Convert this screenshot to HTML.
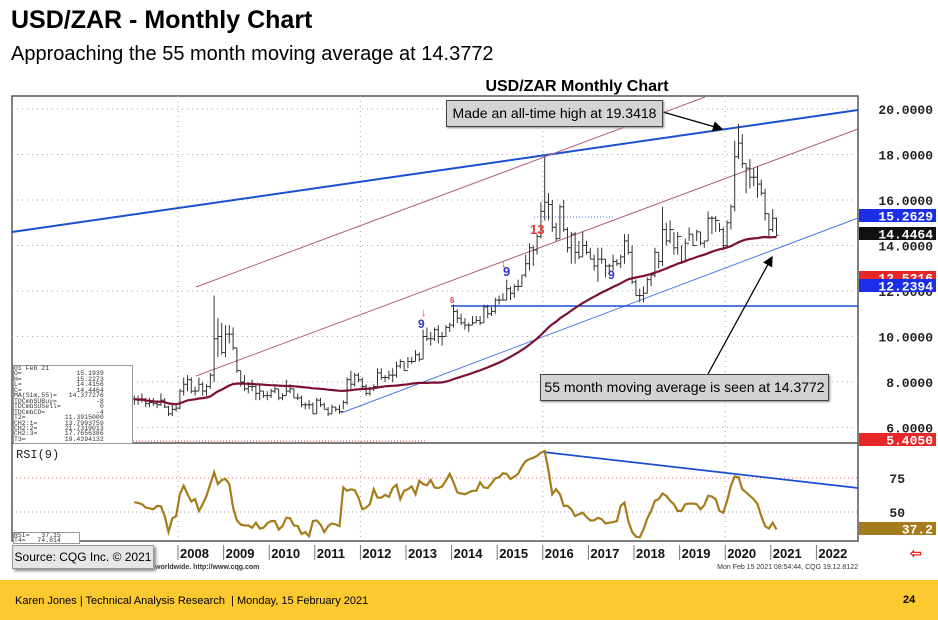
<!DOCTYPE html>
<html><head><meta charset="utf-8"><style>
body{margin:0;width:938px;height:620px;overflow:hidden;background:#fff;font-family:"Liberation Sans",sans-serif;position:relative}
.abs{position:absolute}
</style></head><body>
<div class="abs" style="left:11px;top:6px;font-size:25px;font-weight:bold;color:#000">USD/ZAR - Monthly Chart</div>
<div class="abs" style="left:11px;top:43px;font-size:20px;color:#000">Approaching the 55 month moving average at 14.3772</div>
<svg id="c" class="abs" style="left:0;top:0" width="938" height="620"></svg>
<div class="abs" style="left:0;top:580px;width:938px;height:40px;background:#fcc92f"></div>
<div class="abs" style="left:15px;top:595px;font-size:11px;color:#000">Karen Jones | Technical Analysis Research &nbsp;| Monday, 15 February 2021</div>
<div class="abs" style="left:903px;top:594px;font-size:11px;font-weight:bold">24</div>
<script>
const years=[2007,2008,2009,2010,2011,2012,2013,2014,2015,2016,2017,2018,2019,2020,2021];
const closes=[7.25,7.2,7.25,7.05,7.1,7.05,7.0,7.2,6.9,6.6,6.8,6.85,
7.6,7.9,8.1,7.6,7.6,7.9,7.6,7.8,8.3,9.9,10.0,9.3,
10.1,10.1,9.5,8.5,8.0,7.7,7.8,7.8,7.5,7.6,7.4,7.4,
7.6,7.7,7.3,7.4,7.6,7.7,7.3,7.3,7.0,7.0,7.0,6.6,
7.2,7.0,6.8,6.6,6.9,6.8,6.7,7.1,8.1,7.9,8.3,8.1,
7.8,7.5,7.7,7.8,8.4,8.2,8.2,8.3,8.3,8.7,8.9,8.5,
8.9,8.9,9.2,9.0,10.0,9.9,9.9,10.3,10.0,10.0,10.4,10.5,
11.1,10.8,10.6,10.5,10.5,10.6,10.7,10.6,11.3,11.0,11.1,11.6,
11.6,11.6,12.1,11.9,12.2,12.2,12.7,13.2,13.9,13.8,14.4,15.5,
15.9,15.8,14.8,14.3,15.7,14.7,13.9,14.5,13.7,13.5,14.0,13.7,
13.4,13.1,13.4,13.4,13.1,13.1,13.3,13.2,13.5,14.2,13.7,12.4,
11.8,11.8,11.9,12.5,12.7,13.7,13.3,14.7,14.2,14.7,13.9,14.4,
13.3,14.1,14.5,14.0,14.6,14.1,14.2,15.2,15.2,15.1,14.7,14.0,
15.0,15.7,17.9,18.5,17.6,17.4,17.0,17.0,16.7,16.3,15.4,14.7,
15.2,14.45];
const highs=[7.4,7.4,7.5,7.3,7.3,7.3,7.2,7.5,7.3,6.95,7.0,7.0,
7.7,8.2,8.3,8.2,7.8,8.2,8.0,7.9,8.4,11.8,10.8,10.6,
10.5,10.5,10.4,9.5,8.5,8.3,8.0,8.1,7.9,7.9,7.6,7.6,
7.7,7.9,7.7,7.5,8.1,7.9,7.7,7.5,7.4,7.1,7.2,7.1,
7.3,7.3,7.1,6.9,7.0,6.9,7.0,7.2,8.2,8.5,8.4,8.4,
8.2,7.9,7.8,7.9,8.6,8.6,8.3,8.5,8.6,8.9,9.0,8.9,
9.1,9.1,9.4,9.3,10.3,10.4,10.2,10.4,10.5,10.2,10.5,10.6,
11.4,11.2,11.0,10.8,10.6,10.9,10.9,10.9,11.4,11.4,11.3,11.7,
11.8,11.9,12.5,12.2,12.3,12.5,12.7,13.6,14.1,14.0,14.5,15.9,
17.9,16.3,16.0,15.0,15.8,16.0,14.8,14.6,14.6,14.2,14.6,14.2,
13.9,13.6,13.9,13.9,13.4,13.2,13.6,13.4,13.6,14.5,14.5,14.0,
12.5,12.1,12.2,12.6,12.8,13.9,13.7,15.7,15.0,15.1,14.6,14.6,
14.0,14.3,14.8,14.5,14.7,14.6,14.2,15.5,15.3,15.3,15.0,14.8,
15.1,15.8,18.6,19.34,18.9,17.6,17.8,17.4,17.5,16.9,16.5,15.4,
15.6,15.23];
const lows=[7.0,7.0,7.1,6.9,6.9,6.95,6.85,6.95,6.85,6.5,6.5,6.7,
6.8,7.4,7.6,7.5,7.4,7.6,7.4,7.4,7.7,8.0,9.1,9.2,
9.1,9.7,9.4,8.4,7.8,7.6,7.5,7.6,7.2,7.2,7.3,7.2,
7.3,7.5,7.2,7.2,7.4,7.5,7.3,7.2,6.9,6.8,6.8,6.6,
6.6,6.9,6.8,6.5,6.6,6.7,6.6,6.8,7.0,7.7,7.8,8.0,
7.7,7.4,7.4,7.6,7.7,8.1,8.0,8.1,8.0,8.2,8.6,8.5,
8.6,8.8,8.9,8.9,9.0,9.8,9.6,9.8,9.7,9.6,10.0,10.2,
10.4,10.6,10.5,10.3,10.2,10.5,10.6,10.5,10.6,10.8,10.9,11.0,
11.4,11.6,11.6,11.6,11.7,12.0,12.2,12.6,12.9,13.1,13.6,14.3,
15.1,15.1,14.6,14.2,14.3,14.6,13.7,13.2,13.2,13.4,13.5,13.6,
13.4,12.9,12.4,13.2,12.6,12.8,12.9,13.1,13.0,13.2,13.6,12.3,
11.8,11.5,11.5,11.9,12.2,12.6,13.0,13.1,14.0,14.1,13.6,13.6,
13.2,13.3,14.2,14.0,14.2,14.0,13.9,14.2,14.5,14.6,14.6,13.8,
13.9,14.7,15.5,17.8,17.4,16.3,16.5,16.6,16.1,16.2,15.1,14.4,
14.6,14.42];
const rsiValues=[57.2,56.7,55.7,53.2,52.7,52,54.5,54.2,47,35.4,45.3,47,
63.1,69.3,63.1,57.7,59.4,50.7,55.7,61.9,70.5,79.2,70.5,73.5,
74.3,70.5,53.2,43.8,40.8,40.1,40.1,38.4,42.1,37.9,38.4,41.8,
43.3,43.3,37.1,39.6,45.8,45.3,40.1,39.6,33.9,35.2,32.2,43.3,
43.8,40.8,35.2,39.6,41.6,40.8,39.6,68.1,65.6,66.6,66.1,60.6,
52,53.2,55.7,66.8,60.6,60.6,62.6,61.1,67.6,70,59.4,65.6,
66.8,68.8,63.1,73,70.5,69.6,73.5,68.1,67.6,68.8,73,78,
71.8,64.4,63.6,63.1,64.4,65.6,65.6,71.8,68.1,67.6,71,74.8,
75.5,78.5,78,74.3,76,78,83.4,87.4,88.9,89.9,91.3,93.6,
94.8,80.4,63.1,66.8,63.1,54.5,54.5,52,47,48.3,49.5,46.3,
43.8,43.8,45.8,44.6,41.6,42.1,42.6,43.3,54.5,56.9,43.3,35.4,
31.9,31.4,37.1,45.3,50.7,58.2,59.4,63.6,61.9,58.2,55.7,50.7,
50.7,55.7,56.2,56.2,55.7,52,55,61.9,61.4,59.4,50.7,49.5,
58.2,69.3,76.2,75.5,66.8,64.4,61.9,59.4,55.7,47,39.6,37.9,
42.1,37.2];
const priceTicks=[20,18,16,14,12,10,8,6];
const priceTickLabels=["20.0000","18.0000","16.0000","14.0000","12.0000","10.0000","8.0000","6.0000"];
const rsiTicks=[75,50];
const axisYears=["07","2008","2009","2010","2011","2012","2013","2014","2015","2016","2017","2018","2019","2020","2021","2022"];

const NS="http://www.w3.org/2000/svg";
const svg=document.getElementById('c');
function mk(t,a,parent){const e=document.createElementNS(NS,t);for(const k in a)e.setAttribute(k,a[k]);(parent||svg).appendChild(e);return e;}
const L=12,R=858,T=96,MB=443,RB=541;
const xYear=y=>178+(y-2008)*45.6;
const xMonth=i=>xYear(years[0]+i/12)+1.9;
const yP=p=>109+(20-p)*22.75;
const yR=r=>478+(75-r)*1.36;

let f=mk('rect',{x:L,y:T,width:R-L,height:RB-T,fill:'#fff',stroke:'#555','stroke-width':1.5});

let d=mk('line',{x1:L,x2:R,y1:MB,y2:MB,stroke:'#555','stroke-width':1.5});

priceTicks.forEach((p,i)=>{
 let g=mk('line',{x1:L,x2:R,y1:yP(p),y2:yP(p),stroke:'#aaa','stroke-dasharray':'1 4'});
 
 let t=mk('text',{x:933,y:yP(p)+5,'text-anchor':'end','font-size':13,'font-weight':'bold','font-family':'Liberation Mono, monospace',fill:'#222'});
 t.textContent=priceTickLabels[i];
 
});
[2008,2012,2016,2020].forEach(y=>{
 let g=mk('line',{x1:xYear(y),x2:xYear(y),y1:T,y2:RB,stroke:'#aaa','stroke-dasharray':'1 4'});
 
});
rsiTicks.forEach(r=>{
 let g=mk('line',{x1:L,x2:R,y1:yR(r),y2:yR(r),stroke:r==75?'#d66':'#aaa','stroke-dasharray':'1 3'});
 
 let t=mk('text',{x:905,y:yR(r)+5,'text-anchor':'end','font-size':13,'font-weight':'bold','font-family':'Liberation Mono, monospace',fill:'#222'});
 t.textContent=String(r);
 
});
function ln(x1,y1,x2,y2,c,w,name){let e=mk('line',{x1,y1,x2,y2,stroke:c,'stroke-width':w});return e;}
ln(L,232,R,110,'#1a4fd0',2,'resistance-trendline');
ln(196,287,705,97,'#b06080',1,'upper-channel-line');
ln(196,376,R,129,'#b06080',1,'mid-channel-line');
ln(341,413,R,218,'#4a7ae8',1,'support-trendline');
ln(451,306,R,306,'#1a4fd0',1.5,'horizontal-support');
let dl=ln(534,217,615,217,'#4a7ae8',1,'dotted-level');dl.setAttribute('stroke-dasharray','1 2');
let rl=ln(133,441,425,441,'#d44',1,'red-dotted-level');rl.setAttribute('stroke-dasharray','1 2');
ln(543,452,R,488,'#1a4fd0',1.8,'rsi-trendline');
closes.forEach((c,i)=>{
 const x=xMonth(i),o=i?closes[i-1]:c;
 let g=mk('g',{stroke:'#333','stroke-width':1});
 
 mk('line',{x1:x,x2:x,y1:yP(highs[i]),y2:yP(lows[i])},g);
 mk('line',{x1:x-2,x2:x,y1:yP(o),y2:yP(o)},g);
 mk('line',{x1:x,x2:x+2,y1:yP(c),y2:yP(c)},g);
});
let ma=[];
closes.forEach((c,i)=>{const s=closes.slice(Math.max(0,i-54),i+1);ma.push(s.reduce((a,b)=>a+b,0)/s.length);});
let mp=mk('path',{d:ma.map((v,i)=>(i?'L':'M')+xMonth(i).toFixed(1)+','+yP(v).toFixed(1)).join(''),fill:'none',stroke:'#7a1035','stroke-width':2.2});

let rp=mk('path',{d:rsiValues.map((v,i)=>(i?'L':'M')+xMonth(i).toFixed(1)+','+yR(v).toFixed(1)).join(''),fill:'none',stroke:'#a57c1b','stroke-width':2.2});

let rt=mk('text',{x:16,y:458,'font-size':12,'font-family':'Liberation Mono, monospace',fill:'#222'});rt.textContent='RSI(9)';

[[530,234,'13','#e33',13],[418,328,'9','#33c',12],[503,276,'9','#33c',13],[608,279,'9','#33c',12],[421,316,'↓','#e33',11],[501,267,'↓','#e33',11],[450,303,'6','#e33',8]].forEach(m=>{
 let t=mk('text',{x:m[0],y:m[1],'font-size':m[4],fill:m[3],'font-weight':'bold'});t.textContent=m[2];
 
});
let ct=mk('text',{x:577,y:91,'text-anchor':'middle','font-size':16,'font-weight':'bold',fill:'#000'});ct.textContent='USD/ZAR Monthly Chart';

[[216,'#1c2ee8','#fff','15.2629','last-level-flag'],[234,'#111','#fff','14.4464','close-flag'],[278,'#e82828','#fff','12.5216','red-level-flag'],[286,'#1c2ee8','#fff','12.2394','blue-level-flag'],[440,'#e82828','#fff','5.4050','low-level-flag'],[529,'#a57c1b','#fff','37.2','rsi-value-flag']].forEach(fl=>{
 let g=mk('g',{});
 mk('rect',{x:859,y:fl[0]-7,width:77,height:13,fill:fl[1]},g);
 let t=mk('text',{x:933,y:fl[0]+4.5,'text-anchor':'end','font-size':13,'font-weight':'bold','font-family':'Liberation Mono, monospace',fill:fl[2]},g);t.textContent=fl[3];
});
axisYears.forEach((y,i)=>{
 const x=i==0?xYear(2007)+2:xYear(2007+i);
 let t=mk('text',{x:x+2,y:558,'font-size':13,'font-weight':'bold',fill:'#111','font-family':'Liberation Sans, sans-serif'});t.textContent=y;
 
 let k=mk('line',{x1:x,x2:x,y1:545,y2:560,stroke:'#777'});
});
let ar=mk('text',{x:910,y:558,'font-size':14,fill:'#e22','font-weight':'bold'});ar.textContent='⇦';

let cq=mk('text',{x:155,y:569,'font-size':7,fill:'#333','font-weight':'bold'});cq.textContent='worldwide. http://www.cqg.com';

let ts=mk('text',{x:858,y:569,'text-anchor':'end','font-size':7,fill:'#333'});ts.textContent='Mon Feb 15 2021 08:54:44, CQG 19.12.8122';

mk('defs',{}).innerHTML='<marker id="ah" markerWidth="8" markerHeight="8" refX="7" refY="4" orient="auto"><path d="M0,0L8,4L0,8z" fill="#000"/></marker>';
ln(663,112,722,129,'#000',1.3,'high-arrow').setAttribute('marker-end','url(#ah)');
ln(708,374,772,257,'#000',1.3,'ma-arrow').setAttribute('marker-end','url(#ah)');
</script>
<div class="abs" style="left:446px;top:100px;width:215px;height:25px;background:#d4d4d4;border:1px solid #444;box-shadow:1px 1px 2px #888;font-size:14px;line-height:25px;text-align:center">Made an all-time high at 19.3418</div>
<div class="abs" style="left:540px;top:374px;width:287px;height:25px;background:#d4d4d4;border:1px solid #444;box-shadow:1px 1px 2px #888;font-size:14px;line-height:25px;text-align:center">55 month moving average is seen at 14.3772</div>
<div class="abs" style="left:13px;top:365px;width:118px;height:77px;background:#fff;border:1px solid #999;font-family:'Liberation Mono',monospace;font-size:6.5px;line-height:5.45px;color:#333;white-space:pre">01 Feb 21
O=              15.1939
H=              15.2273
L=              14.4156
C=              14.4464
MA(Sim,55)=   14.377276
TDCmbSUBuy=          -8
TDCmbSUSell=          0
TDCmbCD=             -4
T2=          11.3915000
CH2:1=       13.7993759
CH2:2=       21.7319013
CH2:3=       17.7656386
T3=          19.4394132</div>
<div class="abs" style="left:13px;top:532px;width:65px;height:10px;background:#fff;border:1px solid #999;font-family:'Liberation Mono',monospace;font-size:6.5px;line-height:5px;color:#333;white-space:pre">RSI=   37.15
T4=   74.814</div>
<div class="abs" style="left:12px;top:545px;width:140px;height:22px;background:#e6e6e6;border:1px solid #999;box-shadow:2px 2px 3px #888;font-size:12px;line-height:22px;text-align:center">Source: CQG Inc. © 2021</div>
</body></html>
